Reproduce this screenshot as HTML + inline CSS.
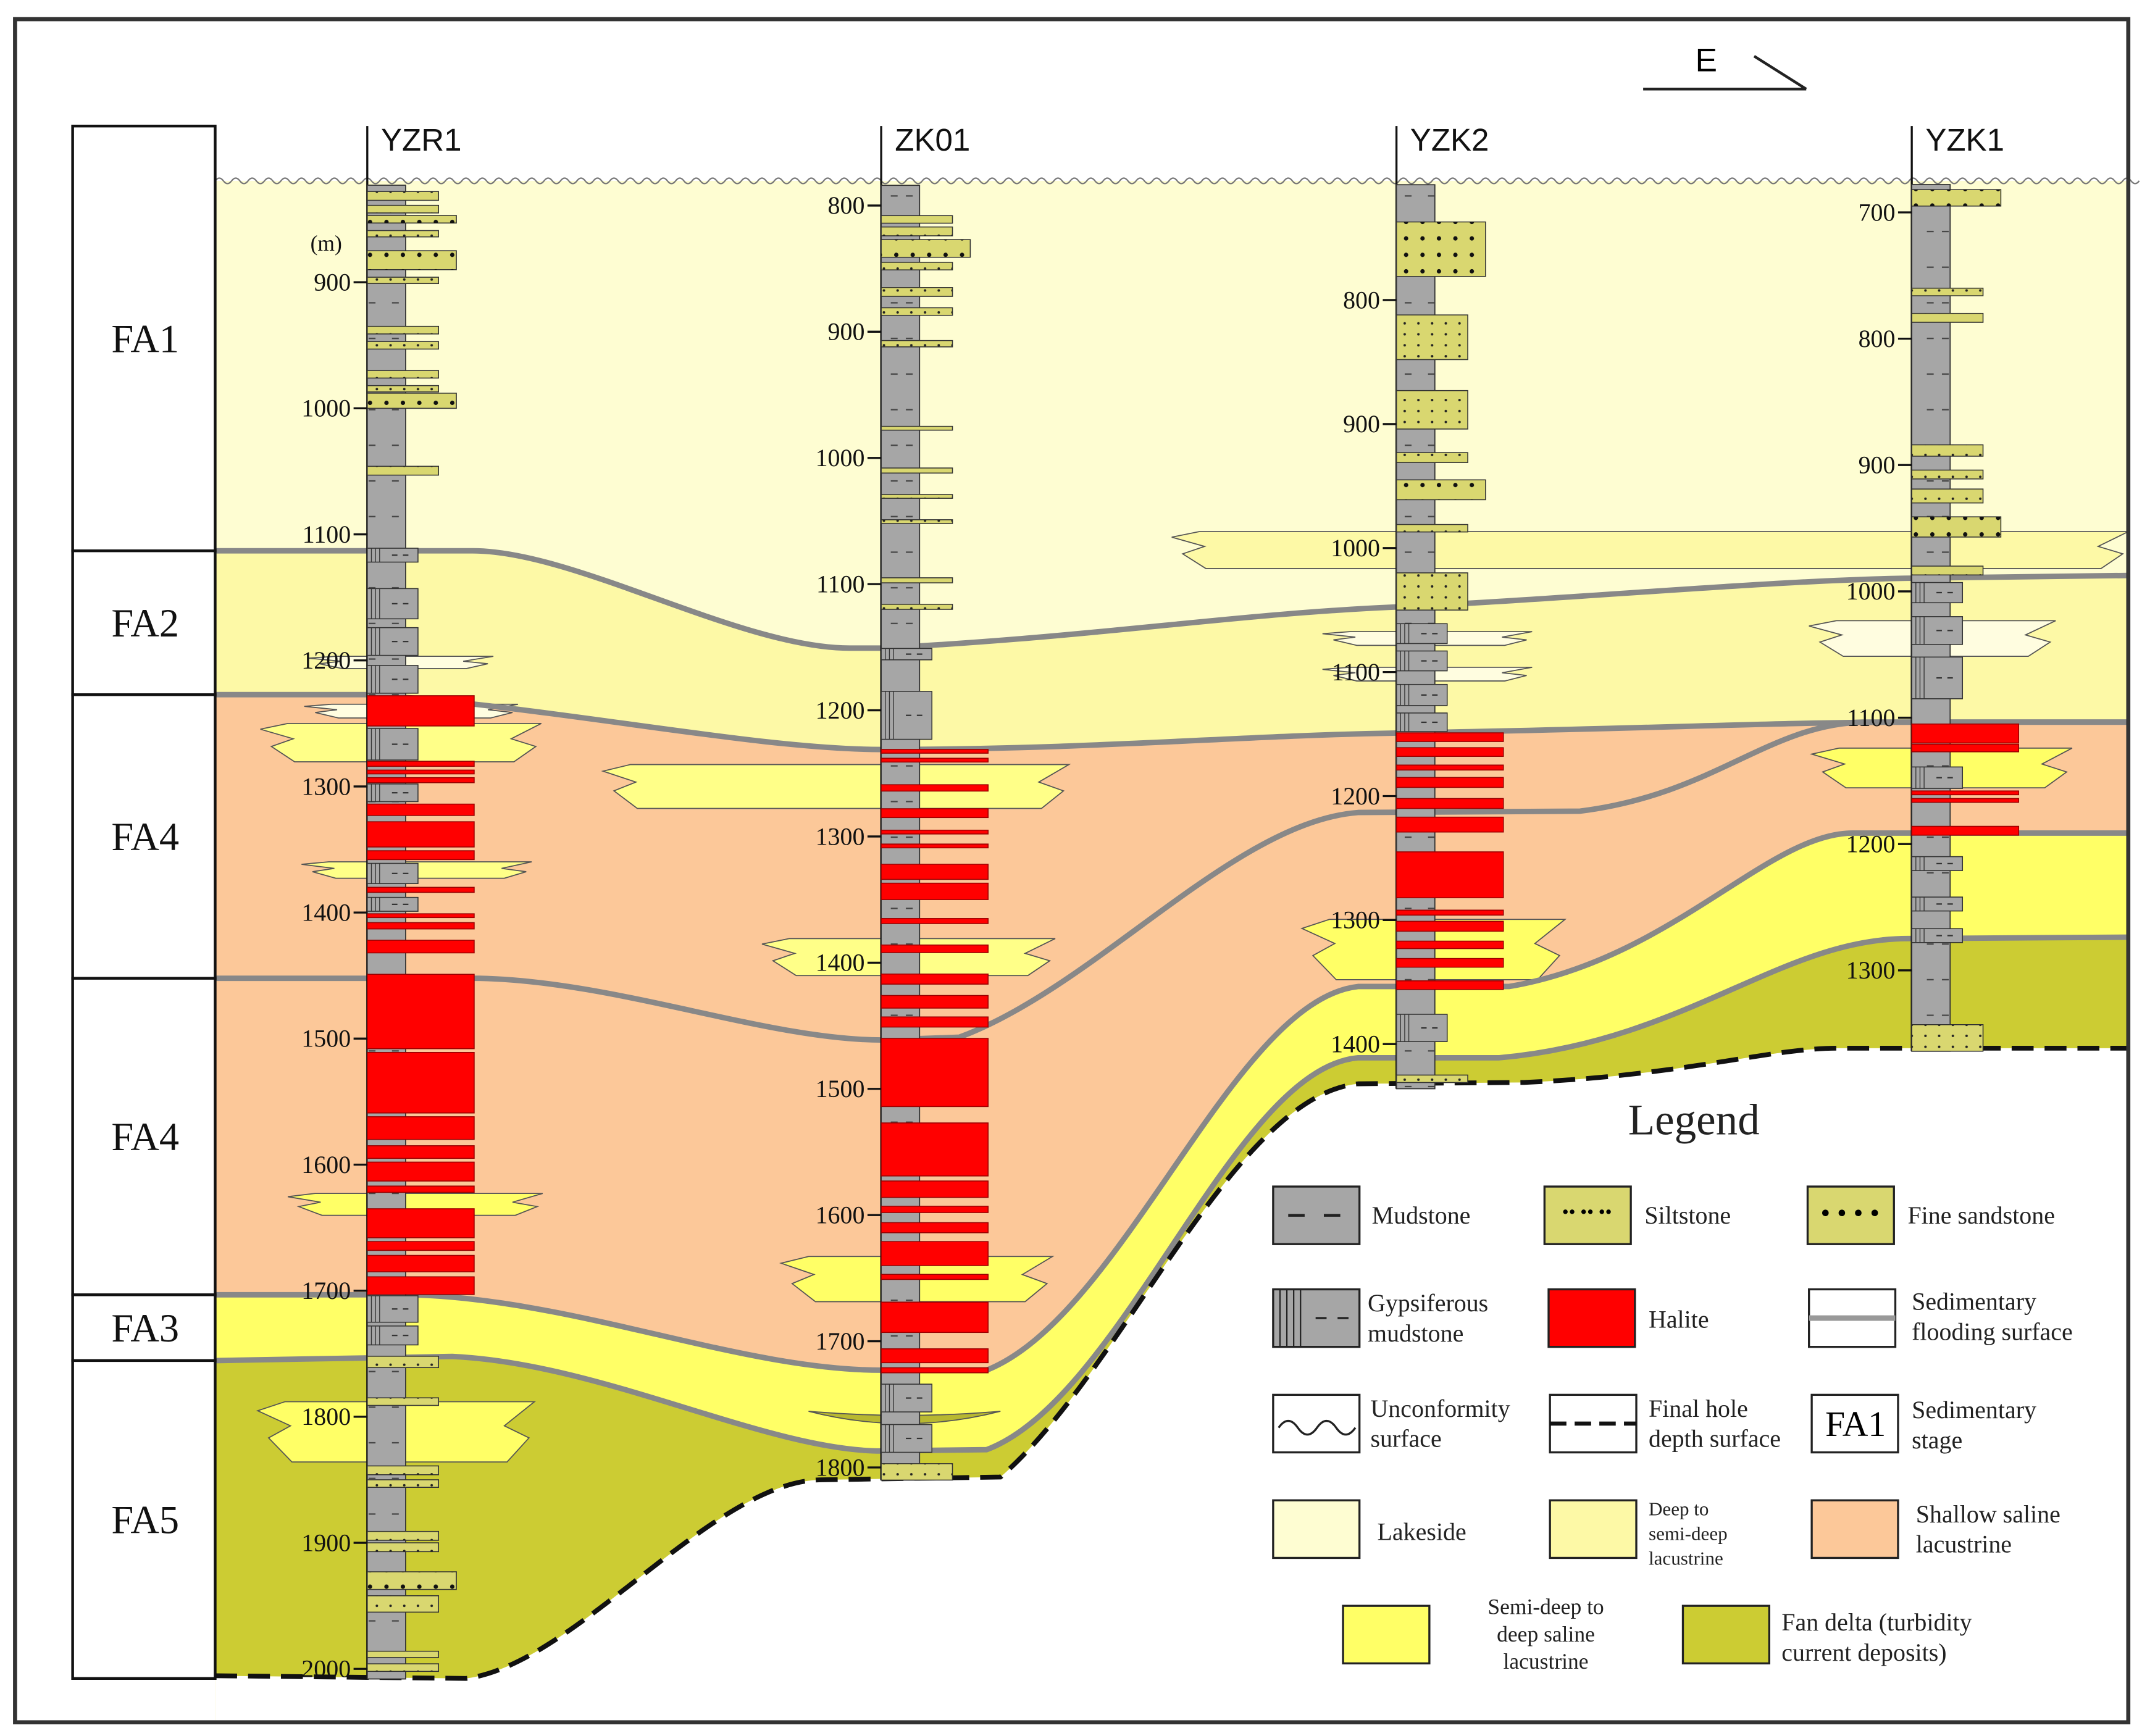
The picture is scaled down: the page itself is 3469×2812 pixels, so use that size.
<!DOCTYPE html>
<html><head><meta charset="utf-8"><title>Well correlation section</title>
<style>html,body{margin:0;padding:0;background:#fff}svg{display:block}</style></head>
<body>
<svg id="chart" xmlns="http://www.w3.org/2000/svg" width="3469" height="2812" viewBox="0 0 1563 1267" preserveAspectRatio="none" font-family="'Liberation Serif', serif">
<defs>
<pattern id="mud" width="28" height="26" patternUnits="userSpaceOnUse"><line x1="6" y1="13" x2="11" y2="13" stroke="#444" stroke-width="1"/><line x1="17" y1="13" x2="22" y2="13" stroke="#444" stroke-width="1"/></pattern>
<pattern id="silt" width="10" height="8" patternUnits="userSpaceOnUse"><circle cx="5" cy="4" r="0.9" fill="#222"/></pattern>
<pattern id="fine" width="12" height="12" patternUnits="userSpaceOnUse"><circle cx="6" cy="6" r="1.6" fill="#111"/></pattern>
</defs>
<rect x="0" y="0" width="1563" height="1267" fill="#fff"/>
<g id="bands"></g>
<g id="stages"></g>
<g id="wells"></g>
<g id="legend"></g>
<rect x="11" y="14" width="1542" height="1243" fill="none" stroke="#333" stroke-width="3"/>
<g>
<text x="1245" y="52" font-family="'Liberation Sans', sans-serif" font-size="24" text-anchor="middle">E</text>
<line x1="1199" y1="65" x2="1318" y2="65" stroke="#222" stroke-width="2"/>
<line x1="1280" y1="41" x2="1318" y2="65" stroke="#222" stroke-width="2"/>
</g>
</svg>
<script>
const NS='http://www.w3.org/2000/svg';
function mk(parent,tag,attrs){const e=document.createElementNS(NS,tag);for(const k in attrs)e.setAttribute(k,attrs[k]);parent.appendChild(e);return e;}

// ---- data ----
const stageNames=['FA1','FA2','FA4','FA4','FA3','FA5'];
const stageTops=[92,402,507,714,945,993];
const stageBottom=1225;
const wellNames=['YZR1','ZK01','YZK2','YZK1'];
const wellX=[268,643,1019,1395];
const wellTopDepth=[823,784,707,678];
const wellBottomDepth=[2008,1810,1436,1364];
const scaleRefDepth=[900,800,800,700];
const scaleRefY=[206,150,219,155];
const scalePxPerM=[0.92,0.921,0.905,0.922];
const tickStart=[900,800,800,700];
const tickEnd=[2000,1800,1400,1300];
// lithology units per well: [top depth, bottom depth, type]
const unitsYZR1=[[828,835,'s'],[839,845,'s'],[847,853,'f'],[859,864,'s'],[875,890,'f'],[896,901,'s'],[935,941,'s'],[947,953,'s'],[970,976,'s'],[982,987,'s'],[988,1000,'f'],[1046,1053,'s'],[1111,1122,'g'],[1143,1167,'g'],[1174,1196,'g'],[1204,1226,'g'],[1228,1252,'h'],[1254,1279,'g'],[1280,1284,'h'],[1287,1290,'h'],[1293,1297,'h'],[1298,1312,'g'],[1314,1323,'h'],[1328,1348,'h'],[1351,1358,'h'],[1361,1377,'g'],[1380,1384,'h'],[1388,1399,'g'],[1401,1404,'h'],[1408,1413,'h'],[1422,1432,'h'],[1449,1508,'h'],[1511,1559,'h'],[1562,1580,'h'],[1585,1595,'h'],[1598,1613,'h'],[1617,1622,'h'],[1635,1658,'h'],[1661,1668,'h'],[1672,1685,'h'],[1689,1703,'h'],[1704,1725,'g'],[1728,1743,'g'],[1752,1761,'s'],[1785,1791,'s'],[1839,1846,'s'],[1850,1856,'s'],[1891,1898,'s'],[1900,1907,'s'],[1923,1937,'f'],[1942,1955,'s'],[1986,1991,'s'],[1996,2002,'s']];
const unitsZK01=[[808,814,'s'],[817,824,'s'],[827,841,'f'],[845,851,'s'],[865,872,'s'],[881,887,'s'],[907,912,'s'],[975,978,'s'],[1008,1012,'s'],[1029,1032,'s'],[1049,1052,'s'],[1095,1099,'s'],[1116,1120,'s'],[1151,1160,'g'],[1185,1223,'g'],[1231,1234,'h'],[1238,1241,'h'],[1259,1264,'h'],[1278,1285,'h'],[1295,1298,'h'],[1306,1309,'h'],[1322,1334,'h'],[1337,1350,'h'],[1365,1369,'h'],[1386,1392,'h'],[1409,1417,'h'],[1426,1436,'h'],[1443,1451,'h'],[1460,1514,'h'],[1527,1569,'h'],[1573,1586,'h'],[1593,1598,'h'],[1606,1614,'h'],[1621,1640,'h'],[1647,1651,'h'],[1669,1693,'h'],[1706,1717,'h'],[1721,1725,'h'],[1734,1756,'g'],[1766,1788,'g'],[1797,1810,'s']];
const unitsYZK2=[[737,781,'f'],[812,848,'s'],[873,904,'s'],[923,931,'s'],[945,961,'f'],[981,987,'s'],[1020,1050,'s'],[1061,1077,'g'],[1083,1099,'g'],[1110,1127,'g'],[1133,1148,'g'],[1149,1156,'h'],[1161,1168,'h'],[1175,1179,'h'],[1185,1193,'h'],[1202,1210,'h'],[1217,1229,'h'],[1245,1282,'h'],[1292,1296,'h'],[1301,1309,'h'],[1317,1323,'h'],[1331,1338,'h'],[1349,1356,'h'],[1376,1398,'g'],[1425,1431,'s']];
const unitsYZK1=[[682,695,'f'],[760,766,'s'],[780,787,'s'],[884,893,'s'],[904,911,'s'],[919,930,'s'],[941,957,'f'],[980,987,'s'],[993,1009,'g'],[1020,1042,'g'],[1052,1085,'g'],[1105,1120,'h'],[1121,1127,'h'],[1139,1156,'g'],[1158,1161,'h'],[1164,1167,'h'],[1186,1193,'h'],[1210,1221,'g'],[1242,1253,'g'],[1267,1278,'g'],[1343,1364,'s']];
const wellUnits=[unitsYZR1,unitsZK01,unitsYZK2,unitsYZK1];

function depthToY(w,d){return scaleRefY[w]+(d-scaleRefDepth[w])*scalePxPerM[w];}

// ---- bands ----
const bands=document.getElementById('bands');
const S1='M157,402 L345,402 C420,402 540,473 620,473 L643,473 C800,465 900,448 1019,443 C1150,437 1300,423 1395,422 L1553,420';
const S2='M157,507 L268,507 C400,515 550,547 643,547 C800,547 900,537 1019,535 C1200,532 1300,527 1395,527 L1553,527';
const S3='M157,714 L350,714 C450,716 560,759 643,759 L700,757 C800,720 900,600 991,593 L1153,592 C1250,580 1290,529 1359,527 L1553,527';
const S4='M157,945 L300,945 C420,948 540,1000 643,1000 L720,1000 C820,960 900,730 991,720 L1101,720 C1220,700 1290,608 1352,608 L1553,608';
const S5='M157,993 L330,990 C440,995 560,1059 643,1059 L720,1058 C820,1020 900,780 991,772 L1094,772 C1230,760 1300,685 1392,685 L1553,684';
const SD='M157,1223 L340,1225 C420,1215 520,1080 600,1080 L730,1078 C820,1000 900,800 991,791 L1112,790 C1230,785 1290,765 1341,765 L1553,765';
const close=' L1553,1256 L157,1256 Z';
let r=mk(bands,'rect',{x:157,y:132,width:1396,height:1124,fill:'#fefdd2'});

const fills=[[S1,'#fdf9a6','deep-semideep-zone'],[S2,'#fcc899','shallow-saline-zone'],[S4,'#ffff66','semideep-saline-zone'],[S5,'#cccc33','fan-delta-zone'],[SD,'#ffffff','below-final-depth']];
fills.forEach(f=>{const p=mk(bands,'path',{d:f[0]+close,fill:f[1]});

});
// tongues
function tongue(x1,x2,y1,y2,fill,name){const h=y2-y1;
const pts=[[x1+20,y1],[x2,y1],[x2-22,y1+h*0.4],[x2-4,y1+h*0.6],[x2-20,y2],[x1+25,y2],[x1+8,y1+h*0.6],[x1+24,y1+h*0.4],[x1,y1+h*0.15]];
const p=mk(bands,'polygon',{points:pts.map(q=>q.join(',')).join(' '),fill:fill,stroke:'#555','stroke-width':0.8});

}
tongue(190,395,528,556,'#ffff88','tongue-yzr1-a');
tongue(220,388,629,641,'#ffff88','tongue-yzr1-b');
tongue(210,396,871,887,'#ffff66','tongue-yzr1-c');
tongue(188,390,1023,1067,'#ffff66','tongue-yzr1-d');
tongue(222,378,514,524,'#fffde0','lens-yzr1-e');
tongue(225,360,479,488,'#fffde0','lens-yzr1-f');
tongue(440,780,558,590,'#ffff88','tongue-zk01-a');
tongue(556,770,685,712,'#ffff88','tongue-zk01-b');
tongue(570,768,917,950,'#ffff66','tongue-zk01-c');
tongue(855,1553,388,415,'#fdf9a6','tongue-yzk2-a');
tongue(965,1118,461,471,'#fffde0','lens-yzk2-b');
tongue(965,1118,487,497,'#fffde0','lens-yzk2-c');
tongue(950,1142,671,715,'#ffff66','tongue-yzk2-d');
tongue(1320,1500,453,479,'#fffde0','lens-yzk1-a');
tongue(1322,1512,546,575,'#ffff66','tongue-yzk1-b');
let lens=mk(bands,'path',{d:'M590,1030 Q660,1036 730,1030 Q660,1048 590,1030 Z',fill:'#b8b830',stroke:'#555','stroke-width':0.8});

[[S1,'surface-1'],[S2,'surface-2'],[S3,'surface-3'],[S4,'surface-4'],[S5,'surface-5']].forEach(s=>{
const p=mk(bands,'path',{d:s[0],fill:'none',stroke:'#888','stroke-width':4});

});
let dl=mk(bands,'path',{d:SD,fill:'none',stroke:'#111','stroke-width':3.5,'stroke-dasharray':'16 8'});

// wave
let wd='M157,132';for(let x=157;x<1553;x+=12){wd+=` Q${x+3},128 ${x+6},132 Q${x+9},136 ${x+12},132`;}
let wv=mk(bands,'path',{d:wd,fill:'none',stroke:'#777','stroke-width':1});


// ---- stages ----
const st=document.getElementById('stages');
stageNames.forEach((n,i)=>{const y1=stageTops[i],y2=i<stageNames.length-1?stageTops[i+1]:stageBottom;
const g=mk(st,'g',{});


mk(g,'rect',{x:53,y:y1,width:104,height:y2-y1,fill:'#fff',stroke:'#111','stroke-width':2});
const t=mk(g,'text',{x:106,y:(y1+y2)/2+10,'font-size':29,'text-anchor':'middle',fill:'#111'});t.textContent=n;});

// ---- wells ----
const wg=document.getElementById('wells');
const widths={m:28,g:37,s:52,f:65,h:78};
wellNames.forEach((n,w)=>{
const x0=wellX[w];const g=mk(wg,'g',{});


const yTop=depthToY(w,wellTopDepth[w]),yBot=depthToY(w,wellBottomDepth[w]);
mk(g,'line',{x1:x0,y1:92,x2:x0,y2:yBot,stroke:'#111','stroke-width':1.5});
const nm=mk(g,'text',{x:x0+10,y:110,'font-size':23,'font-family':"'Liberation Sans', sans-serif",fill:'#111'});nm.textContent=n;
mk(g,'rect',{x:x0,y:yTop,width:28,height:yBot-yTop,fill:'#a6a6a6',stroke:'#333','stroke-width':0.8});
mk(g,'rect',{x:x0,y:yTop,width:28,height:yBot-yTop,fill:'url(#mud)'});
wellUnits[w].forEach(u=>{const y1=depthToY(w,u[0]),y2=depthToY(w,u[1]);const t=u[2];
const wd=widths[t];
const fill=t==='h'?'#ff0000':(t==='s'||t==='f')?'#d9d770':'#a6a6a6';
const rr=mk(g,'rect',{x:x0,y:y1,width:wd,height:Math.max(1.5,y2-y1),fill:fill,stroke:t==='h'?'#900':'#333','stroke-width':0.7});


if(t==='s')mk(g,'rect',{x:x0,y:y1,width:wd,height:y2-y1,fill:'url(#silt)'});
if(t==='f')mk(g,'rect',{x:x0,y:y1,width:wd,height:y2-y1,fill:'url(#fine)'});
if(t==='g'){for(let k=1;k<=3;k++)mk(g,'line',{x1:x0+k*3,y1:y1,x2:x0+k*3,y2:y2,stroke:'#333','stroke-width':0.6});
mk(g,'line',{x1:x0+18,y1:(y1+y2)/2,x2:x0+22,y2:(y1+y2)/2,stroke:'#333','stroke-width':1});
mk(g,'line',{x1:x0+26,y1:(y1+y2)/2,x2:x0+30,y2:(y1+y2)/2,stroke:'#333','stroke-width':1});}
});
for(let d=tickStart[w];d<=tickEnd[w];d+=100){const y=depthToY(w,d);
mk(g,'line',{x1:x0-10,y1:y,x2:x0,y2:y,stroke:'#111','stroke-width':1.5});
const tl=mk(g,'text',{x:x0-12,y:y+6,'font-size':18,'text-anchor':'end',fill:'#111'});tl.textContent=d;

}
});
const mlab=mk(wg,'text',{x:238,y:183,'font-size':16,'text-anchor':'middle',fill:'#111'});mlab.textContent='(m)';


// ---- legend ----
const lg=document.getElementById('legend');
const lt=mk(lg,'text',{x:1236,y:828,'font-size':32,'text-anchor':'middle',fill:'#222'});lt.textContent='Legend';

function box(x,y,fill,name){const g=mk(lg,'g',{});
mk(g,'rect',{x:x,y:y,width:63,height:42,fill:fill,stroke:'#222','stroke-width':1.5});return g;}
function txt(x,y,lines,fs,anchor){lines.forEach((l,i)=>{const t=mk(lg,'text',{x:x,y:y+i*(fs+4),'font-size':fs,fill:'#222','text-anchor':anchor||'start'});t.textContent=l;

});}
let b=box(929,866,'#a6a6a6','legend-mudstone');mk(b,'line',{x1:940,y1:887,x2:952,y2:887,stroke:'#222','stroke-width':2});mk(b,'line',{x1:966,y1:887,x2:978,y2:887,stroke:'#222','stroke-width':2});
txt(1001,893,['Mudstone'],18);
b=box(1127,866,'#d9d770','legend-siltstone');mk(b,'text',{x:1158,y:889,'font-size':14,'text-anchor':'middle'}).textContent='•• •• ••';
txt(1200,893,['Siltstone'],18);
b=box(1319,866,'#d9d770','legend-fine-sandstone');mk(b,'text',{x:1350,y:892,'font-size':20,'text-anchor':'middle'}).textContent='• • • •';
txt(1392,893,['Fine sandstone'],18);
b=box(929,941,'#a6a6a6','legend-gypsiferous-mudstone');for(let k=1;k<=4;k++)mk(b,'line',{x1:929+k*5,y1:941,x2:929+k*5,y2:983,stroke:'#222','stroke-width':1});
mk(b,'line',{x1:960,y1:962,x2:968,y2:962,stroke:'#222','stroke-width':1.5});mk(b,'line',{x1:976,y1:962,x2:984,y2:962,stroke:'#222','stroke-width':1.5});
txt(998,957,['Gypsiferous','mudstone'],18);
box(1130,941,'#ff0000','legend-halite');txt(1203,969,['Halite'],18);
b=box(1320,941,'#fff','legend-flooding-surface');mk(b,'line',{x1:1320,y1:962,x2:1383,y2:962,stroke:'#999','stroke-width':4});
txt(1395,956,['Sedimentary','flooding surface'],18);
b=box(929,1018,'#fff','legend-unconformity');mk(b,'path',{d:'M933,1042 Q940,1032 947,1042 Q954,1052 961,1042 Q968,1032 975,1042 Q982,1052 989,1042',fill:'none',stroke:'#222','stroke-width':1.5});
txt(1000,1034,['Unconformity','surface'],18);
b=box(1131,1018,'#fff','legend-final-hole-depth');mk(b,'line',{x1:1131,y1:1039,x2:1194,y2:1039,stroke:'#111','stroke-width':3,'stroke-dasharray':'12 6'});
txt(1203,1034,['Final hole','depth surface'],18);
b=box(1322,1018,'#fff','legend-stage');mk(b,'text',{x:1354,y:1048,'font-size':26,'text-anchor':'middle'}).textContent='FA1';
txt(1395,1035,['Sedimentary','stage'],18);
box(929,1095,'#fefdd2','legend-lakeside');txt(1005,1124,['Lakeside'],18);
box(1131,1095,'#fdf9a6','legend-deep-semideep');txt(1203,1106,['Deep to','semi-deep','lacustrine'],14);
box(1322,1095,'#fcc899','legend-shallow-saline');txt(1398,1111,['Shallow saline','lacustrine'],18);
box(980,1172,'#ffff66','legend-semideep-saline');txt(1128,1178,['Semi-deep to','deep saline','lacustrine'],16,'middle');
box(1228,1172,'#cccc33','legend-fan-delta');txt(1300,1190,['Fan delta  (turbidity','current deposits)'],18);
</script>
</body></html>
